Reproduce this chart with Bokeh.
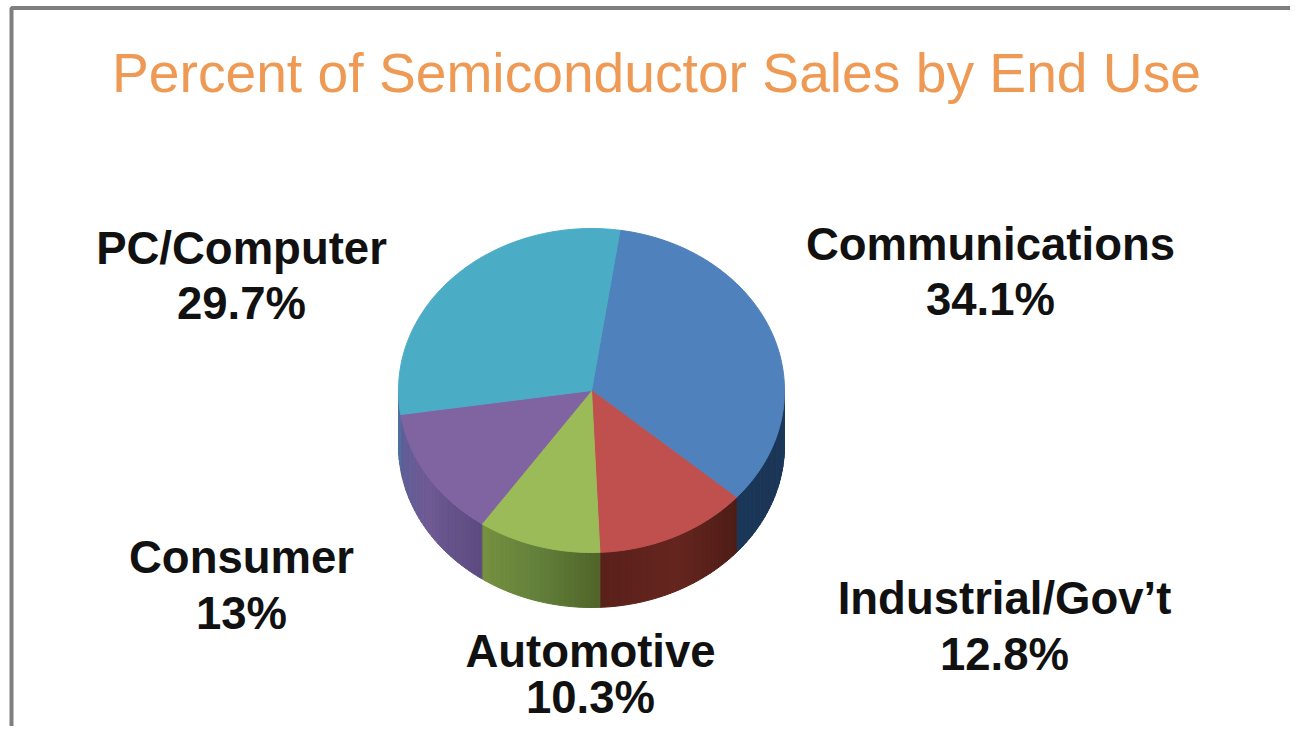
import math
from bokeh.plotting import figure
from bokeh.models import Range1d
from bokeh.core.properties import value
from bokeh.embed import file_html
from bokeh.resources import INLINE

# --- data ---
title_text = "Percent of Semiconductor Sales by End Use"
categories = ["Communications", "Industrial/Gov\u2019t", "Automotive", "Consumer", "PC/Computer"]
shares = [34.1, 12.8, 10.3, 13.0, 29.7]
share_labels = ["34.1%", "12.8%", "10.3%", "13%", "29.7%"]

# --- styling ---
top_colors = ["#4f81bd", "#c0504d", "#9bbb59", "#8064a2", "#4bacc6"]
# side wall shades, listed from the wall's left end to its right end
side_colors = [
    ["#1a3759", "#1b3556", "#1c3a5e"],
    ["#5a201a", "#65251f", "#4e1c16"],
    ["#76913f", "#62803a", "#4f6428"],
    ["#5c5f98", "#6f5a94", "#5c4a80"],
    ["#4f6fa0", "#4f6fa0", "#4f6fa0"],
]
# label centre x, baseline y of first line, baseline y of second line
label_x = [990, 1004, 590, 241, 241]
label_y1 = [261, 615, 668, 574, 265]
label_y2 = [316, 671, 714, 630, 320]
LABEL_SIZE = "45.5px"
TITLE_SIZE = "55.2px"
LABEL_SHIFT = -17
TITLE_SHIFT = -20

CX, CY, RX, RY, DEPTH = 591, 390, 193, 162, 55
START = 8.5
W, H = 1290, 726

p = figure(width=W, height=H, x_range=Range1d(0, W), y_range=Range1d(H, 0),
           output_backend="svg", toolbar_location=None, min_border=0,
           background_fill_color="white", border_fill_color="white", outline_line_color=None)
p.axis.visible = False
p.grid.visible = False


def pt(deg, dy=0.0):
    r = math.radians(deg)
    return CX + RX * math.sin(r), CY - RY * math.cos(r) + dy


def mix(c1, c2, t):
    a = [int(c1[i:i + 2], 16) for i in (1, 3, 5)]
    b = [int(c2[i:i + 2], 16) for i in (1, 3, 5)]
    return "#%02x%02x%02x" % tuple(round(u + (v - u) * t) for u, v in zip(a, b))


total = sum(shares)
edges = [START]
for s in shares:
    edges.append(edges[-1] + s / total * 360)

# side wall: the front half only, in thin strips that carry the shading
sx, sy, sc = [], [], []
for i in range(len(shares)):
    a0, a1 = max(edges[i], 90), min(edges[i + 1], 270)
    if a1 <= a0:
        continue
    n = max(2, int((a1 - a0) / 1.5))
    for k in range(n):
        u0 = a0 + (a1 - a0) * k / n
        u1 = a0 + (a1 - a0) * (k + 1) / n
        x0, y0 = pt(u0)
        x1, y1 = pt(u1)
        sx.append([x0, x1, x1, x0])
        sy.append([y0, y1, y1 + DEPTH, y0 + DEPTH])
        t = 1 - (k + 0.5) / n  # angles run right to left along the front
        c = side_colors[i]
        sc.append(mix(c[0], c[1], t * 2) if t < 0.5 else mix(c[1], c[2], t * 2 - 1))
p.patches(sx, sy, fill_color=sc, line_color=sc, line_width=1)

# top face
tx, ty = [], []
for i in range(len(shares)):
    a0, a1 = edges[i], edges[i + 1]
    n = max(2, int(a1 - a0))
    pts = [pt(a0 + (a1 - a0) * k / n) for k in range(n + 1)]
    tx.append([CX] + [q[0] for q in pts])
    ty.append([CY] + [q[1] for q in pts])
p.patches(tx, ty, fill_color=top_colors, line_color=top_colors, line_width=1)

# frame
p.line([11, 11, W + 10], [H + 10, 7.5, 7.5], line_color="#7f7f7f", line_width=4)

# title
p.text([656], [92], text=[title_text], text_font=value("Liberation Sans"),
       text_font_size=TITLE_SIZE, text_color="#ee9a55", y_offset=TITLE_SHIFT,
       text_align="center", text_baseline="alphabetic")

# labels
for ys, txt in ((label_y1, categories), (label_y2, share_labels)):
    p.text(label_x, ys, text=txt, text_font=value("Liberation Sans"),
           text_font_style="bold", text_font_size=LABEL_SIZE, text_color="#111111",
           y_offset=LABEL_SHIFT, text_align="center", text_baseline="alphabetic")

open("out.html", "w").write(file_html(p, INLINE))
